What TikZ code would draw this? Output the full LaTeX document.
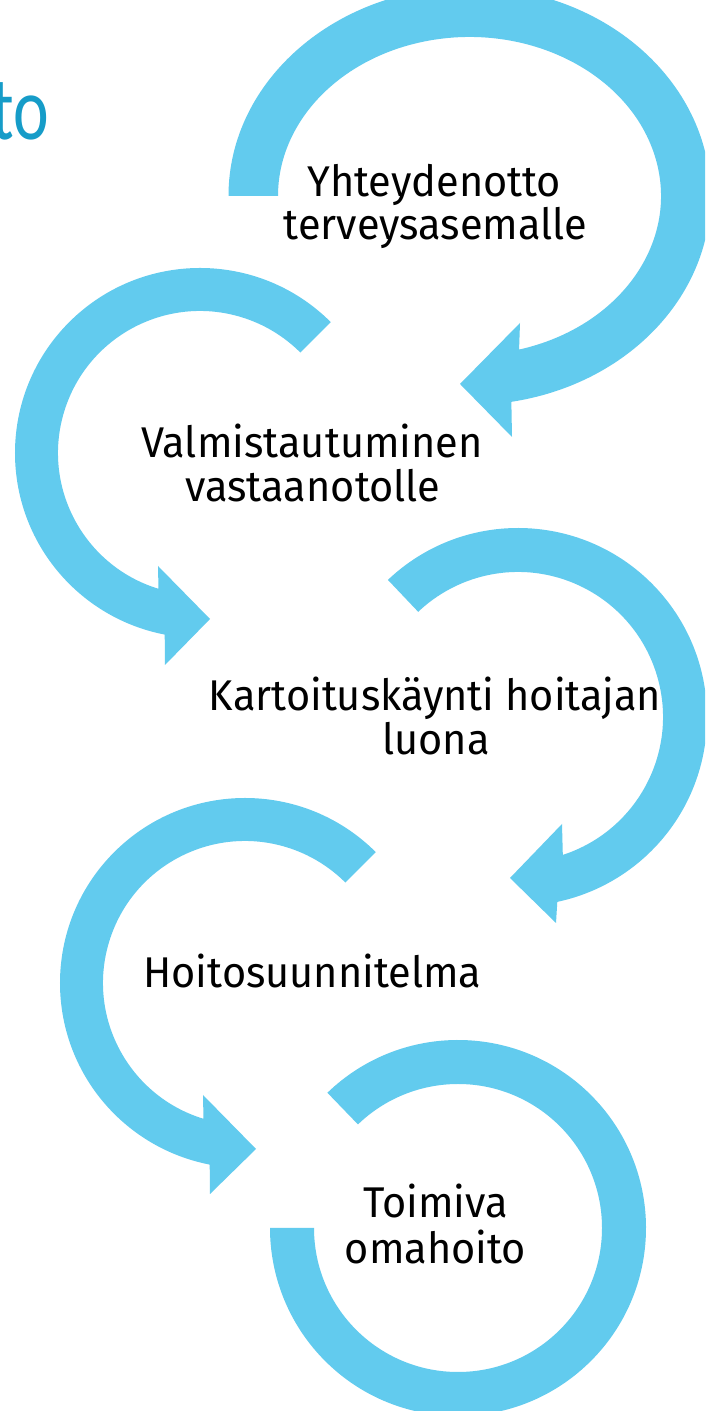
\documentclass[tikz,border=0pt]{standalone}
\usepackage{fontspec}
\setmainfont{Fira Sans}[FakeStretch=0.965]
\newfontfamily\titlefont{Carlito}
\usetikzlibrary{calc}
\definecolor{arrowblue}{RGB}{98,203,238}
\definecolor{titleteal}{RGB}{22,156,200}
\begin{document}
\begin{tikzpicture}[x=1pt,y=1pt,
  lbl/.style={anchor=base, inner sep=0pt, font=\fontsize{43}{44}\selectfont},
  arrowbody/.style={fill=arrowblue, draw=none}]
\useasboundingbox (0,0) rectangle (705,1411);
\clip (0,0) rectangle (705,1411);
\fill[white] (0,0) rectangle (705,1411);

% centres of the circular arrows
\coordinate (c1) at (469.5,1215);
\coordinate (c2) at (200,958);
\coordinate (c3) at (518,694);
\coordinate (c4) at (245,428);
\coordinate (c5) at (458,183);

% arrow 1 (top, clockwise)
\fill[arrowbody] ($(c1)+(180:241pt and 209pt)$)
  arc[start angle=180, end angle=-80, x radius=241pt, y radius=209pt]
  -- (512,974) -- (460,1027) -- (520,1088)
  -- ($(c1)+(-75:191.5pt and 159pt)$)
  arc[start angle=-75, end angle=180, x radius=191.5pt, y radius=159pt] -- cycle;

% arrow 2 (left, counter-clockwise)
\fill[arrowbody] ($(c2)+(45:185pt)$)
  arc[start angle=45, end angle=259, radius=185pt]
  -- (165,746) -- (210,792) -- (158,845)
  -- ($(c2)+(253:142pt)$)
  arc[start angle=253, end angle=45, radius=142pt] -- cycle;

% arrow 3 (right, clockwise)
\fill[arrowbody] ($(c3)+(133.5:189pt)$)
  arc[start angle=133.5, end angle=-78, radius=189pt]
  -- (556,488) -- (510,533) -- (562,587)
  -- ($(c3)+(-72:145pt)$)
  arc[start angle=-72, end angle=133.5, radius=145pt] -- cycle;

% arrow 4 (left, counter-clockwise)
\fill[arrowbody] ($(c4)+(45:185pt)$)
  arc[start angle=45, end angle=259, radius=185pt]
  -- (210,217) -- (256,262) -- (203,316)
  -- ($(c4)+(253:142pt)$)
  arc[start angle=253, end angle=45, radius=142pt] -- cycle;

% arrow 5 (bottom, no head)
\fill[arrowbody] ($(c5)+(134:188pt)$)
  arc[start angle=134, end angle=-180, radius=188pt]
  -- ($(c5)+(180:144pt)$)
  arc[start angle=-180, end angle=134, radius=144pt] -- cycle;

% cut-off title
\node[anchor=base east, inner sep=0pt, text=titleteal,
  font=\titlefont\fontsize{90}{90}\selectfont] (title) at (49,1271) {\scalebox{0.75}[1]{to}};

% labels
\node[lbl] (s1a) at (434.5,1214) {Yhteydenotto};
\node[lbl] (s1b) at (435.5,1171) {terveysasemalle};
\node[lbl] (s2a) at (312,953) {Valmistautuminen};
\node[lbl] (s2b) at (313,909) {vastaanotolle};
\node[lbl] (s3a) at (435,700) {Kartoituskäynti hoitajan};
\node[lbl] (s3b) at (436,656) {luona};
\node[lbl] (s4) at (312.5,423) {Hoitosuunnitelma};
\node[lbl] (s5a) at (435.5,193) {Toimiva};
\node[lbl] (s5b) at (435.5,147) {omahoito};
\end{tikzpicture}
\end{document}
